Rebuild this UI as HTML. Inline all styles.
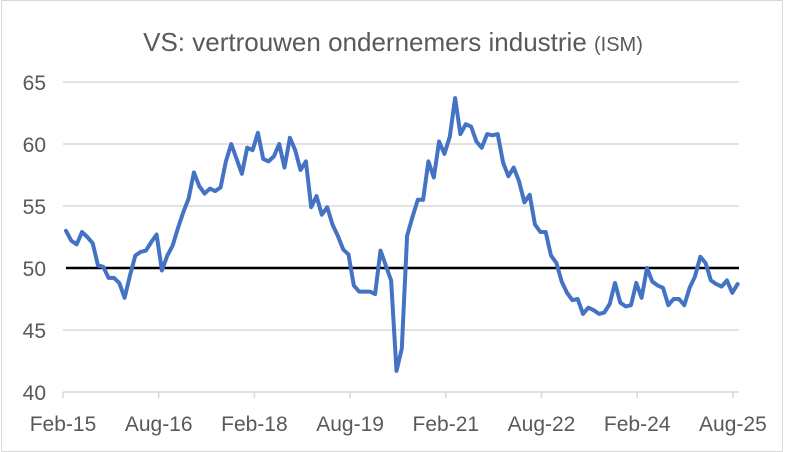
<!DOCTYPE html>
<html><head><meta charset="utf-8"><style>
html,body{margin:0;padding:0;background:#fff}
svg{display:block}
text{font-family:"Liberation Sans",sans-serif;fill:#595959}
</style></head><body>
<svg id="s" width="785" height="452" viewBox="0 0 785 452" xmlns="http://www.w3.org/2000/svg">
<rect x="1.5" y="0.5" width="781" height="451" fill="#fff" stroke="#d9d9d9"/>
<text x="393" y="51" text-anchor="middle" font-size="26">VS: vertrouwen ondernemers industrie <tspan font-size="20">(ISM)</tspan></text>
<g stroke="#d9d9d9" stroke-width="1.5">
<line x1="63" x2="739" y1="82" y2="82"/><line x1="63" x2="739" y1="144" y2="144"/>
<line x1="63" x2="739" y1="206" y2="206"/><line x1="63" x2="739" y1="330" y2="330"/>
<line x1="63" x2="739" y1="392" y2="392"/>
</g>
<g id="ticks" stroke="#d9d9d9" stroke-width="1.5"></g>
<g font-size="21" text-anchor="end">
<text x="46" y="90">65</text><text x="46" y="152">60</text><text x="46" y="214">55</text>
<text x="46" y="276">50</text><text x="46" y="338">45</text><text x="46" y="400">40</text>
</g>
<g id="xl" font-size="21" text-anchor="middle"></g>
<line x1="66" x2="739" y1="268" y2="268" stroke="#000" stroke-width="2.5"/>
<polyline id="p" fill="none" stroke="#4472c4" stroke-width="4" stroke-linejoin="round" stroke-linecap="round"/>
</svg>
<script>
var d=[53.0,52.2,51.9,52.9,52.5,52.0,50.2,50.1,49.2,49.2,48.8,
47.6,49.4,51.0,51.3,51.4,52.1,52.7,49.8,51.0,51.8,53.2,54.5,
55.6,57.7,56.6,56.0,56.4,56.2,56.5,58.6,60.0,58.8,57.6,59.7,
59.5,60.9,58.8,58.6,59.0,60.0,58.1,60.5,59.5,57.9,58.6,54.9,
55.8,54.3,54.9,53.5,52.6,51.5,51.1,48.6,48.1,48.1,48.1,47.9,
51.4,50.2,49.0,41.7,43.5,52.6,54.1,55.5,55.5,58.6,57.3,60.2,
59.2,60.6,63.7,60.8,61.6,61.4,60.2,59.7,60.8,60.7,60.8,58.5,
57.4,58.1,57.0,55.3,55.9,53.5,52.9,52.9,51.0,50.4,48.9,48.0,
47.4,47.5,46.3,46.8,46.6,46.3,46.4,47.1,48.8,47.2,46.9,47.0,
48.8,47.6,50.0,48.9,48.6,48.4,47.0,47.5,47.5,47.0,48.4,49.3,
50.9,50.4,49.0,48.7,48.5,49.0,48.0,48.7];
var pts=d.map(function(v,i){return (66+i*5.33).toFixed(1)+","+(392-(v-40)*12.4).toFixed(1)}).join(" ");
document.getElementById("p").setAttribute("points",pts);
var labs=["Feb-15","Aug-16","Feb-18","Aug-19","Feb-21","Aug-22","Feb-24","Aug-25"];
var t="",l="";
labs.forEach(function(s,k){var x=63+k*95.7;t+='<line x1="'+x+'" x2="'+x+'" y1="392" y2="398"/>';l+='<text x="'+x+'" y="431">'+s+'</text>';});
document.getElementById("ticks").innerHTML=t;
document.getElementById("xl").innerHTML=l;
</script>
</body></html>
